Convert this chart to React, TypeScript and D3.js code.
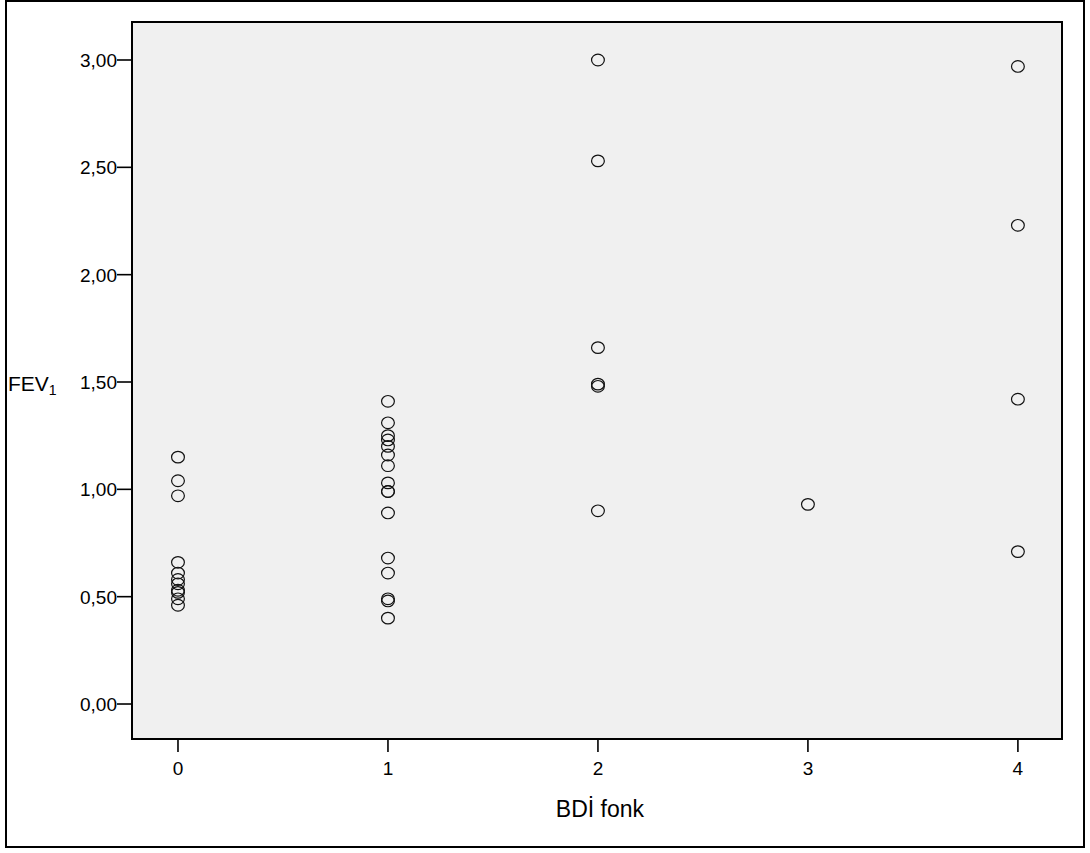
import React, { useEffect, useRef } from "react";
import * as d3 from "d3";

// BDİ fonk groups and FEV1 values
const groups = [0, 1, 2, 3, 4];
const fevGroup0 = [1.15, 1.04, 0.97, 0.66, 0.61, 0.58, 0.56, 0.53, 0.52, 0.49, 0.46];
const fevGroup1 = [1.41, 1.31, 1.25, 1.23, 1.2, 1.16, 1.11, 1.03, 0.99, 0.99, 0.89, 0.68, 0.61, 0.49, 0.48, 0.4];
const fevGroup2 = [3.0, 2.53, 1.66, 1.49, 1.48, 0.9];
const fevGroup3 = [0.93];
const fevGroup4 = [2.97, 2.23, 1.42, 0.71];
const yTicks = [0, 0.5, 1, 1.5, 2, 2.5, 3];

const App = () => {
  const ref = useRef<SVGSVGElement>(null);

  useEffect(() => {
    const W = 1090;
    const H = 853;
    const left = 132, right = 1062, top = 22, bottom = 739;

    const svg = d3.select(ref.current).attr("width", W).attr("height", H);
    svg.selectAll("*").remove();

    const x = d3.scaleLinear().domain([-0.219, 4.21]).range([left, right]);
    const y = d3.scaleLinear().domain([-0.163, 3.177]).range([bottom, top]);

    const font = "'Liberation Sans', Arial, sans-serif";

    // outer frame
    svg.append("rect")
      .attr("x", 6).attr("y", 1).attr("width", 1078).attr("height", 846)
      .attr("fill", "white").attr("stroke", "black").attr("stroke-width", 2);

    // plot area
    svg.append("rect")
      .attr("x", left).attr("y", top).attr("width", right - left).attr("height", bottom - top)
      .attr("fill", "#f0f0f0").attr("stroke", "black").attr("stroke-width", 2);

    // y axis ticks
    const yg = svg.append("g").style("font-family", font).style("font-size", "19px");
    yTicks.forEach((t) => {
      yg.append("line")
        .attr("x1", left - 15).attr("x2", left)
        .attr("y1", y(t)).attr("y2", y(t))
        .attr("stroke", "black").attr("stroke-width", 1.6);
      yg.append("text")
        .attr("x", left - 15).attr("y", y(t)).attr("dy", "0.36em")
        .attr("text-anchor", "end").attr("fill", "#000")
        .text(d3.format(".2f")(t).replace(".", ","));
    });

    // x axis ticks
    const xg = svg.append("g").style("font-family", font).style("font-size", "19px");
    groups.forEach((g) => {
      xg.append("line")
        .attr("x1", x(g)).attr("x2", x(g))
        .attr("y1", bottom).attr("y2", bottom + 13)
        .attr("stroke", "black").attr("stroke-width", 1.6);
      xg.append("text")
        .attr("x", x(g)).attr("y", 775)
        .attr("text-anchor", "middle").attr("fill", "#000")
        .text(String(g));
    });

    // axis titles
    svg.append("text")
      .attr("x", x(2) + 2).attr("y", 817)
      .attr("text-anchor", "middle")
      .style("font-family", font).style("font-size", "23px").attr("fill", "#000")
      .text("BDİ fonk");

    const yl = svg.append("text")
      .attr("x", 8).attr("y", 391)
      .style("font-family", font).style("font-size", "21px").attr("fill", "#000");
    yl.append("tspan").text("FEV");
    yl.append("tspan").style("font-size", "14px").attr("dy", 4).text("1");

    // points
    const series = [fevGroup0, fevGroup1, fevGroup2, fevGroup3, fevGroup4];
    const pts = series.flatMap((vals, i) => vals.map((v) => ({ g: groups[i], v })));

    svg.append("g")
      .selectAll("ellipse")
      .data(pts)
      .join("ellipse")
      .attr("cx", (d) => x(d.g))
      .attr("cy", (d) => y(d.v))
      .attr("rx", 6.4)
      .attr("ry", 5.8)
      .attr("fill", "none")
      .attr("stroke", "#111")
      .attr("stroke-width", 1.2);
  }, []);

  return (
    <div style={{ position: "absolute", left: 0, top: 0 }}>
      <svg ref={ref} style={{ display: "block" }}></svg>
    </div>
  );
};

export default App;
